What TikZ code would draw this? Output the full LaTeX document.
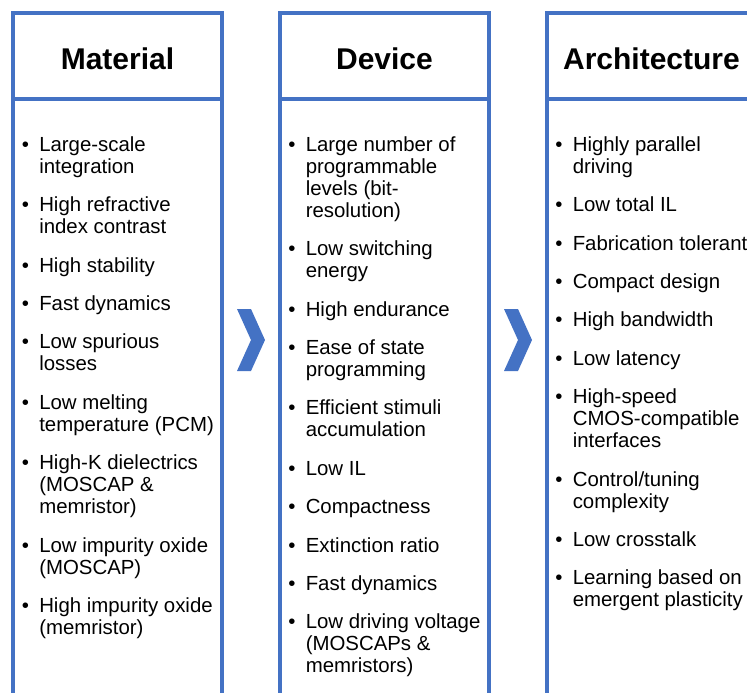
\documentclass[tikz,border=0pt]{standalone}
\usepackage{fontspec}
\setmainfont{Liberation Sans}
\usetikzlibrary{positioning}
\definecolor{rahmenblau}{HTML}{4472C4}

\tikzset{
  spalte/.style={draw=rahmenblau, line width=2.6pt},
  titel/.style={font=\bfseries\fontsize{22.5}{27}\selectfont, anchor=base, inner sep=0pt},
  eintrag/.style={font=\fontsize{15.3}{16.5}\selectfont, align=left, inner sep=0pt, anchor=north west},
  punkt/.style={font=\fontsize{15.3}{16.5}\selectfont, inner sep=0pt, anchor=north},
  pfeil/.style={fill=rahmenblau, draw=none}
}

% Liste: #1 Praefix, #2 x-Position, #3 Eintraege
\newcommand{\spaltenliste}[3]{%
  \foreach \txt [count=\i] in {#3} {
    \ifnum\i=1
      \node[eintrag] (#1\i) at (#2,135.6) {\strut\txt\strut};
    \else
      \pgfmathtruncatemacro{\j}{\i-1}
      \node[eintrag, below=11.9pt of #1\j.south west, anchor=north west] (#1\i) {\strut\txt\strut};
    \fi
    \node[punkt] (#1p\i) at ([xshift=-10.1pt]#1\i.north west) {\strut\textbullet};
  }%
}

\begin{document}
\begin{tikzpicture}[x=0.75pt, y=-0.75pt]

    % Rahmen des Bildes
    \useasboundingbox (0,0) rectangle (747,693);
    \clip (0,0) rectangle (747,693);

    % Spalten: Kopf und Rumpf
    \foreach \dx in {0,267,534} {
        \draw[spalte] ({13+\dx},13) rectangle ({222+\dx},99);
        \draw[spalte] ({13+\dx},99) rectangle ({222+\dx},710);
    }

    % Ueberschriften
    \node[titel] (tmat) at (117.5,69) {Material};
    \node[titel] (tdev) at (384.5,69) {Device};
    \node[titel] (tarc) at (651.5,69.5) {Architecture};

    % Pfeile zwischen den Spalten
    \foreach \dx in {0,267} {
        \fill[pfeil] ({237+\dx},309) -- ++(14,0) -- ++(14,31) -- ++(-14,31)
            -- ++(-14,0) -- ++(14,-31) -- cycle;
    }

    % Material
    \spaltenliste{m}{39}{
        {Large-scale\\integration},
        {High refractive\\index contrast},
        High stability,
        Fast dynamics,
        {Low spurious\\losses},
        {Low melting\\temperature (PCM)},
        {High-K dielectrics\\(MOSCAP \&\\memristor)},
        {Low impurity oxide\\(MOSCAP)},
        {High impurity oxide\\(memristor)}}

    % Device
    \spaltenliste{d}{305.5}{
        {Large number of\\programmable\\levels (bit-\\resolution)},
        {Low switching\\energy},
        High endurance,
        {Ease of state\\programming},
        {Efficient stimuli\\accumulation},
        Low IL,
        Compactness,
        Extinction ratio,
        Fast dynamics,
        {Low driving voltage\\(MOSCAPs \&\\memristors)}}

    % Architecture
    \spaltenliste{a}{572.5}{
        {Highly parallel\\driving},
        Low total IL,
        Fabrication tolerant,
        Compact design,
        High bandwidth,
        Low latency,
        {High-speed\\CMOS-compatible\\interfaces},
        {Control/tuning\\complexity},
        Low crosstalk,
        {Learning based on\\emergent plasticity}}

\end{tikzpicture}
\end{document}
